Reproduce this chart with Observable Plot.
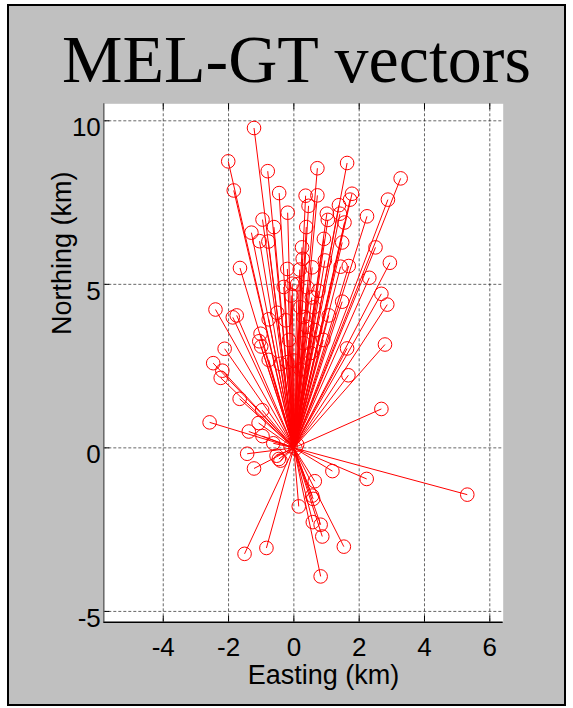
<!DOCTYPE html>
<html>
<head>
<meta charset="utf-8">
<script src="https://cdn.jsdelivr.net/npm/d3@7"></script>
<script src="https://cdn.jsdelivr.net/npm/@observablehq/plot@0.6"></script>
<style>
  html, body { margin: 0; padding: 0; background: white; }
  #fig { position: relative; width: 573px; height: 708px; overflow: hidden; }
  #box { position: absolute; left: 7px; top: 4px; width: 559px; height: 702px; box-sizing: border-box;
         border: 2px solid black; background: #c0c0c0; }
  #title { position: absolute; left: 19px; top: 25px; width: 555px; text-align: center;
           font-family: "Liberation Serif", "DejaVu Serif", serif; font-size: 68px; line-height: 69px; color: black; white-space: nowrap; }
  #chart { position: absolute; left: 0; top: 0; }
</style>
</head>
<body>
<div id="fig">
  <div id="box"></div>
  <div id="title">MEL-GT vectors</div>
  <div id="chart"></div>
</div>
<script>
const titleText = "MEL-GT vectors";
const xLabel = "Easting (km)";
const yLabel = "Northing (km)";
const xTicks = [-4, -2, 0, 2, 4, 6];
const yTicks = [-5, 0, 5, 10];
const xDomain = [-5.82, 6.41];
const yDomain = [-5.33, 10.52];

// Endpoint of each vector (km), all starting at the origin
const easting = [
  -1.22, -2.01, -1.84, -0.80, -0.45, -0.19, -0.96, -0.61, -1.30, -1.05, -0.78, -1.65,
  0.36, 0.72, 0.45, 0.38, 0.25, 0.27, -0.20, 0.18, 0.56, 0.72, 1.63, 3.27, 2.88, 1.78, 1.72,
  1.01, 1.04, 1.38, 1.41, 1.55, 1.48, 2.24, 2.50, 0.92, 0.95, 1.68, 1.43, 2.31, 2.94,
  -0.31, -0.08, -0.05, 0.41, 0.61, 1.07, 1.48, 2.68, 2.86, -0.51, -0.77, -0.25,
  -1.02, -1.06, -1.00, -0.77, -0.20, -0.41, 0.00, 0.20, 0.40, 0.30, 0.52, 0.20, 0.90,
  1.63, 1.67, 2.79, 2.68,
  0.10, 0.55, 0.30, 0.65, -0.15, 0.75,
  -2.40, -1.87, -1.75, -2.12, -2.47, -2.19, -2.24, -1.66, -2.58,
  -0.97, -1.08, -1.38, -0.96, -0.63, -1.43, -1.22, -0.53, -0.41, -0.46,
  0.05, -0.10, 0.10,
  1.18, 2.23, 5.31, 0.64, 0.56, 0.59, 0.15, 0.58, 0.82, 0.87, 1.53, 0.82, -1.51, -0.84
];
const northing = [
  9.78, 8.76, 7.87, 8.46, 7.79, 7.19, 6.98, 6.75, 6.58, 6.32, 6.31, 5.50,
  7.71, 7.72, 7.40, 6.75, 6.13, 5.78, 5.47, 5.45, 5.52, 8.55, 8.71, 8.24, 7.59, 7.77, 7.59,
  7.16, 6.97, 7.42, 7.16, 6.89, 6.28, 7.08, 6.13, 6.39, 5.73, 5.56, 5.54, 5.20, 5.66,
  4.92, 4.66, 5.02, 4.91, 4.30, 4.05, 4.47, 4.71, 4.38, 4.13, 3.93, 3.90,
  3.49, 3.26, 3.10, 2.69, 2.62, 2.57, 2.67, 4.30, 3.70, 3.20, 2.90, 2.40, 3.30,
  3.04, 2.22, 3.16, 1.19,
  5.00, 4.60, 4.00, 3.60, 3.30, 4.80,
  4.23, 3.99, 4.05, 3.03, 2.59, 2.36, 2.14, 1.50, 0.78,
  1.15, 0.76, 0.50, 0.36, 0.14, -0.18, -0.63, -0.24, -0.39, -0.34,
  -0.02, 0.05, 0.10,
  -0.71, -0.95, -1.43, -1.02, -1.46, -1.56, -1.79, -2.27, -2.35, -2.71, -3.02, -3.93, -3.24, -3.06
];

const vectors = easting.map((e, i) => ({e, n: northing[i]}));

const W = 573, H = 708;
const mL = 103.3, mR = 70.3, mT = 103.3, mB = 86.3;
const fw = W - mL - mR, fh = H - mT - mB;

const plot = Plot.plot({
  width: W,
  height: H,
  marginLeft: mL,
  marginRight: mR,
  marginTop: mT,
  marginBottom: mB,
  style: {background: "transparent", fontFamily: "'Liberation Sans', Arial, sans-serif", color: "black"},
  x: {domain: xDomain, axis: null},
  y: {domain: yDomain, axis: null},
  marks: [
    Plot.frame({fill: "white", stroke: null}),
    Plot.gridX(xTicks, {stroke: "black", strokeOpacity: 0.75, strokeWidth: 0.8, strokeDasharray: "3,2"}),
    Plot.gridY(yTicks, {stroke: "black", strokeOpacity: 0.75, strokeWidth: 0.8, strokeDasharray: "3,2"}),
    Plot.tickX(xTicks, {x: d => d, insetTop: fh - 6, stroke: "black", strokeWidth: 1}),
    Plot.tickX(xTicks, {x: d => d, insetBottom: fh - 6, stroke: "black", strokeWidth: 1}),
    Plot.tickY(yTicks, {y: d => d, insetRight: fw - 6, stroke: "black", strokeWidth: 1}),
    Plot.ruleX([xDomain[0]], {stroke: "#666", strokeWidth: 1.5}),
    Plot.ruleY([yDomain[0]], {stroke: "black", strokeWidth: 1.5}),
    Plot.link(vectors, {x1: () => 0, y1: () => 0, x2: "e", y2: "n", stroke: "red", strokeWidth: 1}),
    Plot.dot(vectors, {x: "e", y: "n", r: 6.8, stroke: "red", fill: "none", strokeWidth: 1}),
    Plot.axisX(xTicks, {anchor: "bottom", tickSize: 0, tickPadding: 15, fontSize: 26, tickFormat: d => String(d), label: null}),
    Plot.axisY(yTicks, {anchor: "left", tickSize: 0, tickPadding: 3, dy: 7, fontSize: 26, tickFormat: d => String(d), label: null}),
    Plot.text([xLabel], {text: d => d, frameAnchor: "bottom", lineAnchor: "bottom", dx: 20, dy: 62, fontSize: 27, fill: "black"}),
    Plot.text([yLabel], {text: d => d, frameAnchor: "left", rotate: -90, dx: -41, dy: -28, fontSize: 27, fill: "black"})
  ]
});
document.getElementById("chart").appendChild(plot);
</script>
</body>
</html>
